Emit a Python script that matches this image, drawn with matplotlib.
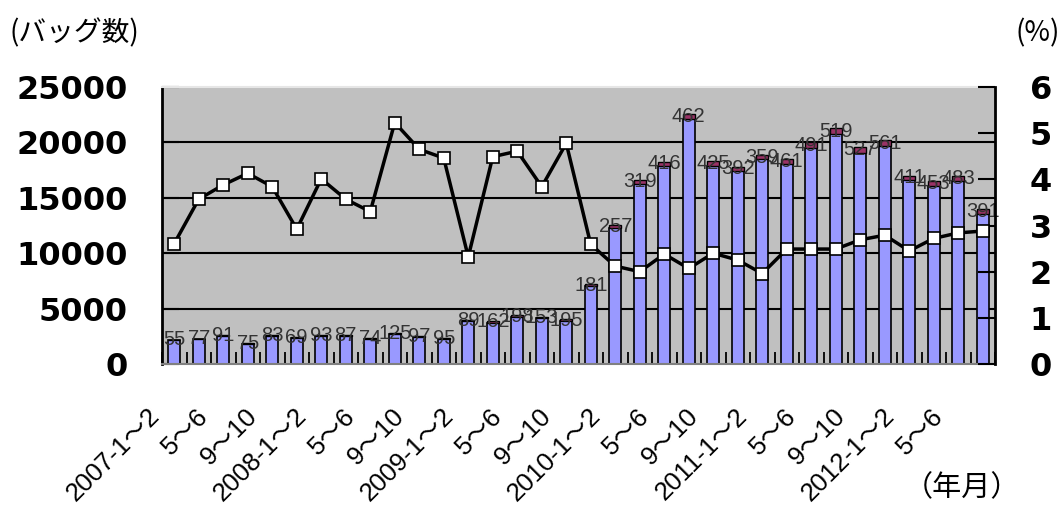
import matplotlib
matplotlib.use("Agg")
import matplotlib.pyplot as plt
import matplotlib.transforms as mtrans
import numpy as np

# ---- data ----
periods = ["2007-1〜2", "3〜4", "5〜6", "7〜8", "9〜10", "11〜12",
           "2008-1〜2", "3〜4", "5〜6", "7〜8", "9〜10", "11〜12",
           "2009-1〜2", "3〜4", "5〜6", "7〜8", "9〜10", "11〜12",
           "2010-1〜2", "3〜4", "5〜6", "7〜8", "9〜10", "11〜12",
           "2011-1〜2", "3〜4", "5〜6", "7〜8", "9〜10", "11〜12",
           "2012-1〜2", "3〜4", "5〜6", "7〜8"]
totals = [2200, 2300, 2600, 1900, 2600, 2450, 2600, 2600, 2350, 2800, 2530, 2350,
          3970, 3880, 4420, 4270, 4060, 7190, 12540, 16600, 18260, 22560, 18300, 17800,
          18860, 18500, 20010, 21270, 19610, 20220, 17000, 16550, 16970, 13950]
red_vals = [55, 77, 91, 75, 83, 69, 93, 87, 74, 125, 97, 95,
            89, 162, 198, 153, 195, 181, 257, 319, 416, 462, 425, 392,
            359, 461, 491, 519, 527, 561, 411, 453, 483, 391]
pct = [2.61, 3.57, 3.88, 4.13, 3.84, 2.92, 4.01, 3.57, 3.30, 5.23, 4.65, 4.46,
       2.32, 4.49, 4.61, 3.84, 4.78, 2.59, 2.12, 2.00, 2.38, 2.07, 2.40, 2.25,
       1.96, 2.49, 2.49, 2.49, 2.69, 2.79, 2.45, 2.72, 2.84, 2.88]
left_ticks = [0, 5000, 10000, 15000, 20000, 25000]
right_ticks = [0, 1, 2, 3, 4, 5, 6]

blue_vals = [t - r for t, r in zip(totals, red_vals)]
label_idx = list(range(0, len(periods), 2))

plt.rcParams['font.family'] = ['Liberation Sans', 'Noto Sans CJK JP', 'DejaVu Sans']

fig = plt.figure(figsize=(10.63, 5.15), dpi=100)
ax = fig.add_axes([162/1063, (515-364)/515, 833/1063, 277/515])
ax.set_facecolor('#C0C0C0')
x = np.arange(len(periods))

for v in left_ticks[1:-1]:
    ax.axhline(v, color='black', lw=1.5, zorder=1)

ax.bar(x, blue_vals, width=0.5, color='#9999FF', edgecolor='black', lw=1.2, zorder=2)
ax.bar(x, red_vals, width=0.5, bottom=blue_vals, color='#993366', edgecolor='black',
       lw=1.0, zorder=2)
for xi, b, r in zip(x, blue_vals, red_vals):
    ax.text(xi, b + r / 2, str(r), ha='center', va='center', fontsize=14.5,
            color='#333333', zorder=4)

ax.set_xlim(-0.5, len(periods) - 0.5)
ax.set_ylim(0, 25000)
ax.set_yticks(left_ticks)
ax.set_yticklabels([str(v) for v in left_ticks], fontsize=23, fontweight='bold',
                   family='DejaVu Sans')
ax.tick_params(axis='y', direction='in', length=12, width=1.5, pad=25)

ax.set_xticks(x[label_idx])
ax.set_xticklabels([periods[i] for i in label_idx], rotation=45, ha='right',
                   va='top', rotation_mode='anchor', fontsize=18.5)
ax.tick_params(axis='x', which='major', length=0, pad=0)
off = mtrans.ScaledTranslation(-27/100, -40/100, fig.dpi_scale_trans)
for lab in ax.get_xticklabels():
    lab.set_transform(lab.get_transform() + off)
ax.set_xticks(np.arange(-0.5, len(periods), 1), minor=True)
ax.tick_params(axis='x', which='minor', direction='in', length=9, width=1.3, color='black')

ax.spines['left'].set_linewidth(2)
ax.spines['bottom'].set_color('#808080')
ax.spines['bottom'].set_linewidth(1.5)
ax.spines['top'].set_color('#E6E6E6')
ax.spines['top'].set_linewidth(1.5)
ax.spines['right'].set_visible(False)

ax2 = ax.twinx()
ax2.plot(x, pct, color='black', lw=2.5, marker='s', markersize=8,
         markerfacecolor='white', markeredgecolor='black', markeredgewidth=1.2, zorder=5)
ax2.set_ylim(0, 6)
ax2.set_yticks(right_ticks)
ax2.set_yticklabels([str(v) for v in right_ticks], fontsize=23, fontweight='bold',
                    family='DejaVu Sans')
ax2.tick_params(axis='y', direction='in', length=12, width=1.5, pad=25)
ax2.spines['right'].set_linewidth(2)
ax2.spines['left'].set_visible(False)
ax2.spines['top'].set_visible(False)
ax2.spines['bottom'].set_visible(False)

fig.text(10/1063, 1 - 33/515, "(バッグ数)", fontsize=20, ha='left', va='center',
         family=['Noto Sans CJK JP', 'DejaVu Sans'])
fig.text(1060/1063, 1 - 33/515, "(%)", fontsize=20, ha='right', va='center',
         family=['Noto Sans CJK JP', 'DejaVu Sans'])
fig.text(962/1063, 1 - 488/515, "（年月）", fontsize=21, ha='center', va='center',
         family=['Noto Sans CJK JP', 'DejaVu Sans'])

fig.savefig("out.png", dpi=100)
